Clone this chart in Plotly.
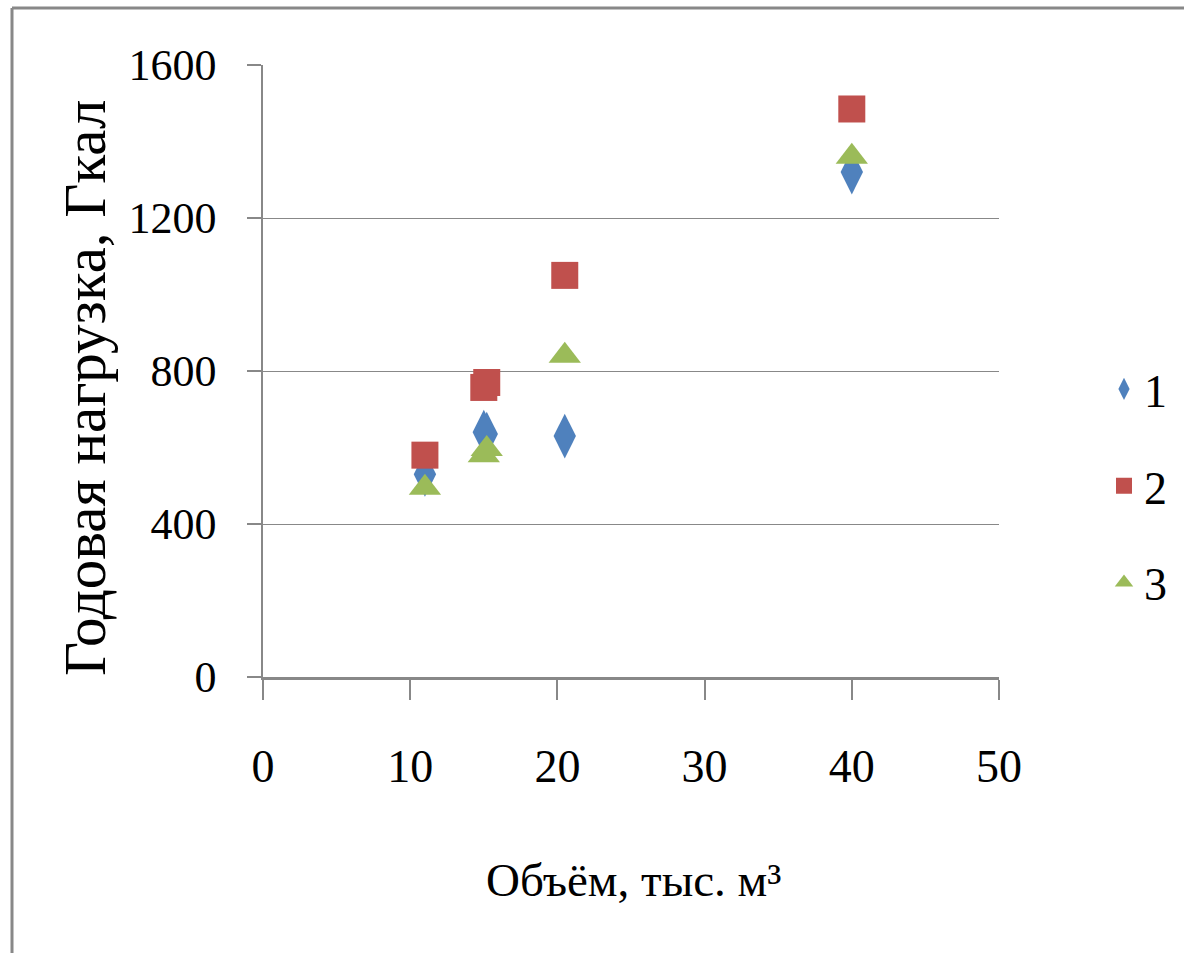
import plotly.graph_objects as go

# Building volume, thousand m3
volume = [11, 15, 15.2, 20.5, 40]

# Annual heat load, Gcal, for three calculation methods
load_1 = [530, 640, 635, 630, 1320]
load_2 = [580, 757, 770, 1050, 1485]
load_3 = [495, 580, 596, 840, 1360]

series_names = ["1", "2", "3"]
series_colors = ["#4F81BD", "#C0504D", "#9BBB59"]
series_symbols = ["diamond-tall", "square", "triangle-up"]
series_sizes = [32, 27, 28]

x_ticks = [0, 10, 20, 30, 40, 50]
y_ticks = [0, 400, 800, 1200, 1600]

FONT = "Liberation Serif, Times New Roman, serif"
AXIS_GREY = "#888888"

W, H = 1184, 953
M_L, M_R, M_T, M_B = 263, 185, 65, 276
PW, PH = W - M_L - M_R, H - M_T - M_B


def px_x(p):
    return (p - M_L) / PW


def px_y(p):
    return (H - M_B - p) / PH


fig = go.Figure()
for name, ys, col, sym, sz in zip(series_names, [load_1, load_2, load_3],
                                  series_colors, series_symbols, series_sizes):
    fig.add_trace(go.Scatter(
        x=volume, y=ys, mode="markers", name=name, legendgroup=name,
        marker=dict(symbol=sym, size=sz, color=col, line=dict(width=0)),
    ))

fig.update_layout(
    width=W, height=H,
    margin=dict(l=M_L, r=M_R, t=M_T, b=M_B),
    paper_bgcolor="white", plot_bgcolor="white",
    font=dict(family=FONT, color="black"),
    showlegend=True,
    legend=dict(
        x=px_x(1104), xanchor="left", y=px_y(486), yanchor="middle",
        font=dict(family=FONT, size=46, color="black"),
        tracegroupgap=34, bgcolor="rgba(0,0,0,0)",
    ),
    xaxis=dict(
        range=[0, 50], tickvals=x_ticks, showgrid=False, zeroline=False,
        showline=True, linecolor=AXIS_GREY, linewidth=3,
        ticks="outside", ticklen=20, tickwidth=1.5, tickcolor=AXIS_GREY,
        tickfont=dict(family=FONT, size=46, color="black"),
        ticklabelstandoff=27,
    ),
    yaxis=dict(
        range=[0, 1600], tickvals=y_ticks, showgrid=True,
        gridcolor=AXIS_GREY, gridwidth=1.2, zeroline=False,
        showline=True, linecolor=AXIS_GREY, linewidth=1.5,
        ticks="outside", ticklen=14, tickwidth=1.5, tickcolor=AXIS_GREY,
        tickfont=dict(family=FONT, size=44, color="black"),
        ticklabelstandoff=22,
    ),
    annotations=[
        dict(text="Годовая нагрузка, Гкал", xref="paper", yref="paper",
             x=px_x(85), y=px_y(388), textangle=-90, showarrow=False,
             xanchor="center", yanchor="middle",
             font=dict(family=FONT, size=59, color="black")),
        dict(text="Объём, тыс. м³", xref="paper", yref="paper",
             x=px_x(633), y=px_y(880), showarrow=False,
             xanchor="center", yanchor="middle",
             font=dict(family=FONT, size=47, color="black")),
    ],
    shapes=[
        dict(type="line", xref="paper", yref="paper",
             x0=px_x(12), x1=px_x(12), y0=px_y(8), y1=px_y(970),
             line=dict(color=AXIS_GREY, width=3)),
        dict(type="line", xref="paper", yref="paper",
             x0=px_x(12), x1=px_x(1200), y0=px_y(8), y1=px_y(8),
             line=dict(color=AXIS_GREY, width=3)),
    ],
)

fig.write_html("out.html")
